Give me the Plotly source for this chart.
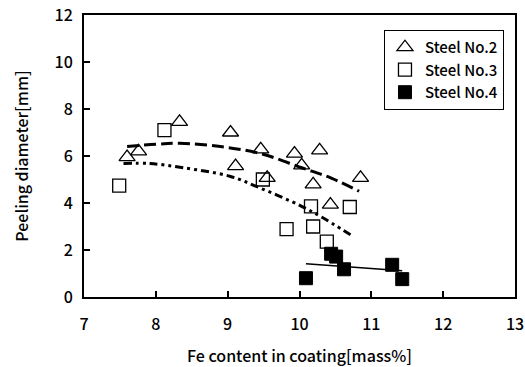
import plotly.graph_objects as go

# Steel No.2 (open triangles)
s2_x = [7.60, 7.76, 8.33, 9.04, 9.11, 9.46, 9.55, 9.93, 10.03, 10.28, 10.19, 10.43, 10.85]
s2_y = [5.95, 6.20, 7.45, 7.00, 5.57, 6.28, 5.07, 6.10, 5.60, 6.24, 4.79, 3.93, 5.07]
# Steel No.3 (open squares)
s3_x = [7.49, 8.12, 9.49, 9.82, 10.16, 10.19, 10.38, 10.70]
s3_y = [4.74, 7.10, 5.00, 2.89, 3.86, 3.00, 2.36, 3.83]
# Steel No.4 (filled squares)
s4_x = [10.09, 10.44, 10.51, 10.62, 11.29, 11.43]
s4_y = [0.80, 1.84, 1.72, 1.18, 1.37, 0.76]

# trend curves
t2_x = [7.60, 8.00, 8.33, 8.90, 9.46, 10.03, 10.45, 10.83]
t2_y = [6.40, 6.50, 6.54, 6.40, 6.10, 5.50, 5.05, 4.50]
t3_x = [7.55, 7.92, 8.38, 9.03, 9.45, 10.01, 10.29, 10.71]
t3_y = [5.68, 5.68, 5.50, 5.14, 4.64, 3.89, 3.43, 2.65]
t4_x = [10.09, 11.43]
t4_y = [1.42, 1.12]

x_ticks = [7, 8, 9, 10, 11, 12, 13]
y_ticks = [0, 2, 4, 6, 8, 10, 12]

FONT = "Noto Sans CJK JP"
TICKFONT = dict(family=FONT, size=16, weight=500)

fig = go.Figure()
fig.add_trace(go.Scatter(x=t2_x, y=t2_y, mode="lines", showlegend=False,
                         line=dict(color="black", width=3, dash="12px,5px"), line_shape="spline"))
fig.add_trace(go.Scatter(x=t3_x, y=t3_y, mode="lines", showlegend=False,
                         line=dict(color="black", width=3, dash="8px,4px,3px,4px,3px,4px"), line_shape="spline"))
fig.add_trace(go.Scatter(x=t4_x, y=t4_y, mode="lines", showlegend=False,
                         line=dict(color="black", width=1.5)))
fig.add_trace(go.Scatter(x=s2_x, y=s2_y, mode="markers", name="Steel No.2",
                         marker=dict(symbol="triangle-up-open", size=14, color="black",
                                     line=dict(width=1.3, color="black"))))
fig.add_trace(go.Scatter(x=s3_x, y=s3_y, mode="markers", name="Steel No.3",
                         marker=dict(symbol="square-open", size=13, color="black",
                                     line=dict(width=1.3, color="black"))))
fig.add_trace(go.Scatter(x=s4_x, y=s4_y, mode="markers", name="Steel No.4",
                         marker=dict(symbol="square", size=13, color="black",
                                     line=dict(width=1, color="black"))))

fig.update_layout(
    width=525, height=367,
    margin=dict(l=84, r=10, t=15, b=70),
    paper_bgcolor="white", plot_bgcolor="white",
    font=dict(family=FONT, size=15, color="black"),
    legend=dict(x=0.696, y=0.947, xanchor="left", yanchor="top",
                bgcolor="white", bordercolor="black", borderwidth=1,
                font=dict(family=FONT, size=15, weight=500), itemwidth=30),
    xaxis=dict(range=[7, 13], tickvals=x_ticks, ticktext=[str(v) for v in x_ticks],
               ticks="inside", ticklen=6, tickwidth=1.5, tickcolor="black",
               ticklabelstandoff=12, tickfont=TICKFONT, automargin=False,
               showline=True, linewidth=2, linecolor="black", mirror=True,
               showgrid=False, zeroline=False,
               title=dict(text="Fe content in coating[mass%]", standoff=18,
                          font=dict(family=FONT, size=16, weight=500))),
    yaxis=dict(range=[0, 12], tickvals=y_ticks, ticktext=[str(v) for v in y_ticks],
               ticks="inside", ticklen=6, tickwidth=1.5, tickcolor="black",
               ticklabelstandoff=6, tickfont=TICKFONT, automargin=False,
               showline=True, linewidth=2, linecolor="black", mirror=True,
               showgrid=False, zeroline=False,
               title=dict(text="Peeling diameter[mm]", standoff=22,
                          font=dict(family=FONT, size=16, weight=500))),
)

fig.write_html("out.html")
